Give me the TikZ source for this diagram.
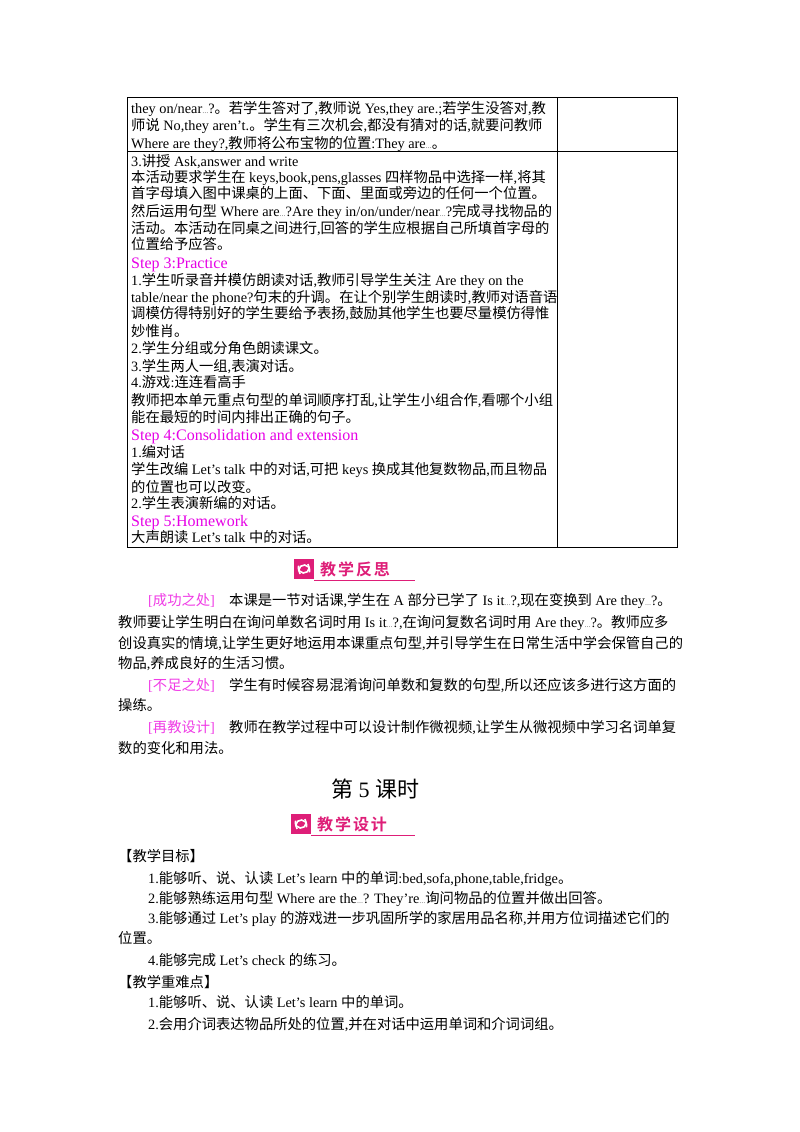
\documentclass[tikz,border=0pt]{standalone}
\usepackage{fontspec}
\setmainfont{Liberation Serif}
\newfontfamily\cjkf{Noto Sans CJK SC}
\newfontfamily\cjkbold{Noto Sans CJK SC Bold}
\XeTeXinterchartokenstate=1
\newXeTeXintercharclass\cjkclass
\count255="4E00
\loop\XeTeXcharclass\count255=\cjkclass\ifnum\count255<"9FFF\advance\count255 1\repeat
\count255="3000
\loop\XeTeXcharclass\count255=\cjkclass\ifnum\count255<"303F\advance\count255 1\repeat
\XeTeXinterchartoks 0 \cjkclass={\begingroup\cjkf}
\XeTeXinterchartoks 4095 \cjkclass={\begingroup\cjkf}
\XeTeXinterchartoks \cjkclass 0={\endgroup}
\XeTeXinterchartoks \cjkclass 4095={\endgroup}
\definecolor{stepc}{RGB}{230,0,230}
\definecolor{brk}{RGB}{240,60,230}
\definecolor{badge}{RGB}{222,30,120}
\newcommand\el{{\fontsize{6}{6}\selectfont…}}
\newcount\lnum
\newcommand\tl[3]{\global\advance\lnum1 \node[txt](l\the\lnum) at (#1,#2) {#3};}
\newcommand\badge[5]{%
  \fill[badge] (#1,#2) rectangle ++(20,20);
  \draw[white,line width=1.6pt] (#1+10,#2+10) ++(4,-5) arc (-40:200:5.5);
  \draw[white,line width=1.6pt] (#1+10,#2+10) ++(-4,5) arc (140:380:5.5);
  \draw[badge,line width=0.6pt] (#1+20,#2+21) -- (#3,#2+21);
  \node[anchor=base west,inner sep=0,text=badge,font=\fontsize{16}{16}\selectfont](#4) at (#1+26,#2+16) {\XeTeXinterchartokenstate=0 \cjkbold\addfontfeature{LetterSpace=12}#5};
}
\begin{document}
\begin{tikzpicture}[x=1pt,y=-1pt,
  txt/.style={anchor=base west,inner sep=0,font=\fontsize{14.3}{14.3}\selectfont},
  stp/.style={text=stepc,font=\fontsize{16}{16}\selectfont}]
\useasboundingbox (0,0) rectangle (800,1132);
\fill[white] (0,0) rectangle (800,1132);
% table
\draw[line width=1pt] (127,97) rectangle (677,547);
\draw[line width=1pt] (127,151) -- (677,151);
\draw[line width=1pt] (557,97) -- (557,547);
\tl{131}{113}{they on/near\el{}?。若学生答对了,教师说 Yes,they are.;若学生没答对,教}
\tl{131}{130}{师说 No,they aren’t.。学生有三次机会,都没有猜对的话,就要问教师}
\tl{131}{148}{Where are they?,教师将公布宝物的位置:They are\el{}。}
\tl{131}{166}{3.讲授 Ask,answer and write}
\tl{131}{182}{本活动要求学生在 keys,book,pens,glasses 四样物品中选择一样,将其}
\tl{131}{198}{首字母填入图中课桌的上面、下面、里面或旁边的任何一个位置。}
\tl{131}{216}{然后运用句型 Where are\el{}?Are they in/on/under/near\el{}?完成寻找物品的}
\tl{131}{233}{活动。本活动在同桌之间进行,回答的学生应根据自己所填首字母的}
\tl{131}{249}{位置给予应答。}
\node[txt,stp](s3) at (131,268) {Step 3:Practice};
\tl{131}{285}{1.学生听录音并模仿朗读对话,教师引导学生关注 Are they on the}
\tl{131}{302}{table/near the phone?句末的升调。在让个别学生朗读时,教师对语音语}
\tl{131}{318}{调模仿得特别好的学生要给予表扬,鼓励其他学生也要尽量模仿得惟}
\tl{131}{336}{妙惟肖。}
\tl{131}{353}{2.学生分组或分角色朗读课文。}
\tl{131}{371}{3.学生两人一组,表演对话。}
\tl{131}{387}{4.游戏:连连看高手}
\tl{131}{405}{教师把本单元重点句型的单词顺序打乱,让学生小组合作,看哪个小组}
\tl{131}{422}{能在最短的时间内排出正确的句子。}
\node[txt,stp](s4) at (131,440) {Step 4:Consolidation and extension};
\tl{131}{457}{1.编对话}
\tl{131}{474}{学生改编 Let’s talk 中的对话,可把 keys 换成其他复数物品,而且物品}
\tl{131}{492}{的位置也可以改变。}
\tl{131}{508}{2.学生表演新编的对话。}
\node[txt,stp](s5) at (131,526) {Step 5:Homework};
\tl{131}{542}{大声朗读 Let’s talk 中的对话。}
% reflection
\badge{294}{559}{415}{b1}{教学反思}
\tl{148}{605}{{\color{brk}[成功之处]}\quad 本课是一节对话课,学生在 A 部分已学了 Is it\el{}?,现在变换到 Are they\el{}?。}
\tl{118}{627}{教师要让学生明白在询问单数名词时用 Is it\el{}?,在询问复数名词时用 Are they\el{}?。教师应多}
\tl{118}{648}{创设真实的情境,让学生更好地运用本课重点句型,并引导学生在日常生活中学会保管自己的}
\tl{118}{668}{物品,养成良好的生活习惯。}
\tl{148}{690}{{\color{brk}[不足之处]}\quad 学生有时候容易混淆询问单数和复数的句型,所以还应该多进行这方面的}
\tl{118}{710}{操练。}
\tl{148}{732}{{\color{brk}[再教设计]}\quad 教师在教学过程中可以设计制作微视频,让学生从微视频中学习名词单复}
\tl{118}{753}{数的变化和用法。}
% lesson 5
\node[anchor=base,inner sep=0,font=\fontsize{22}{22}\selectfont](title) at (375,797) {第 5 课时};
\badge{291}{814}{415}{b2}{教学设计}
\tl{118}{861}{【教学目标】}
\tl{148}{883}{1.能够听、说、认读 Let’s learn 中的单词:bed,sofa,phone,table,fridge。}
\tl{148}{903}{2.能够熟练运用句型 Where are the\el{}? They’re\el{}询问物品的位置并做出回答。}
\tl{148}{923}{3.能够通过 Let’s play 的游戏进一步巩固所学的家居用品名称,并用方位词描述它们的}
\tl{118}{943}{位置。}
\tl{148}{965}{4.能够完成 Let’s check 的练习。}
\tl{118}{987}{【教学重难点】}
\tl{148}{1007}{1.能够听、说、认读 Let’s learn 中的单词。}
\tl{148}{1029}{2.会用介词表达物品所处的位置,并在对话中运用单词和介词词组。}
\end{tikzpicture}
\end{document}
